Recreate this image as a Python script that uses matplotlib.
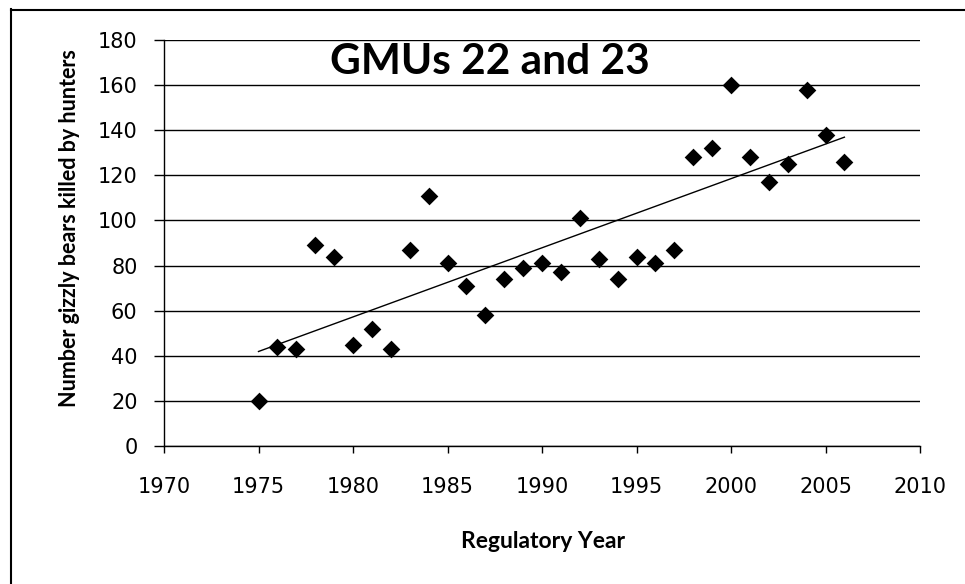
import matplotlib
matplotlib.use("Agg")
import matplotlib.pyplot as plt
import numpy as np
from matplotlib.lines import Line2D

years = list(range(1975, 2007))
kills = [20, 44, 43, 89, 84, 45, 52, 43, 87, 111, 81, 71, 58, 74, 79, 81,
         77, 101, 83, 74, 84, 81, 87, 128, 132, 160, 128, 117, 125, 158, 138, 126]
x_ticks = [1970, 1975, 1980, 1985, 1990, 1995, 2000, 2005, 2010]
y_ticks = [0, 20, 40, 60, 80, 100, 120, 140, 160, 180]
title = "GMUs 22 and 23"
xlabel = "Regulatory Year"
ylabel = "Number gizzly bears killed by hunters"

fig = plt.figure(figsize=(9.65, 5.84), dpi=100)
ax = fig.add_axes([164/965, 1-446/584, (920-164)/965, (446-40)/584])

ax.set_xlim(1970, 2010)
ax.set_ylim(0, 180)
ax.set_xticks(x_ticks)
ax.set_yticks(y_ticks)
ax.yaxis.grid(True, color="black", linewidth=1.0)
ax.set_axisbelow(True)
for s in ["top", "right"]:
    ax.spines[s].set_visible(False)
ax.spines["left"].set_linewidth(1.0)
ax.spines["bottom"].set_linewidth(1.0)

ax.scatter(years, kills, marker="D", s=9**2, color="black", zorder=3, linewidths=0)

# linear trend line
coef = np.polyfit(years, kills, 1)
xs = np.array([years[0], years[-1]])
ax.plot(xs, np.polyval(coef, xs), color="black", linewidth=1.0, zorder=2)

ax.tick_params(axis="y", direction="out", length=7, width=1, pad=12, labelsize=15)
ax.tick_params(axis="x", direction="out", length=5, width=1, pad=17, labelsize=15)
for lab in ax.get_xticklabels() + ax.get_yticklabels():
    lab.set_fontfamily("DejaVu Sans")

ax.text(490/965 - 0.0, 1-62/584, title, transform=fig.transFigure, ha="center", va="center",
        fontsize=30.5, fontweight="bold", fontfamily="Lato")

fig.text(543/965, 1-541/584, xlabel, ha="center", va="center",
         fontsize=16.5, fontweight="bold", fontfamily="Lato")
fig.text(70/965, 1-228/584, ylabel, ha="center", va="center", rotation=90,
         fontsize=15.5, fontweight="bold", fontfamily="Lato")

# partial outer frame
fig.add_artist(Line2D([11/965, 11/965], [0, 1-9/584], transform=fig.transFigure,
                      color="black", linewidth=1.5))
fig.add_artist(Line2D([11/965, 1], [1-10/584, 1-10/584], transform=fig.transFigure,
                      color="black", linewidth=1.5))

fig.savefig("out.png", dpi=100)
